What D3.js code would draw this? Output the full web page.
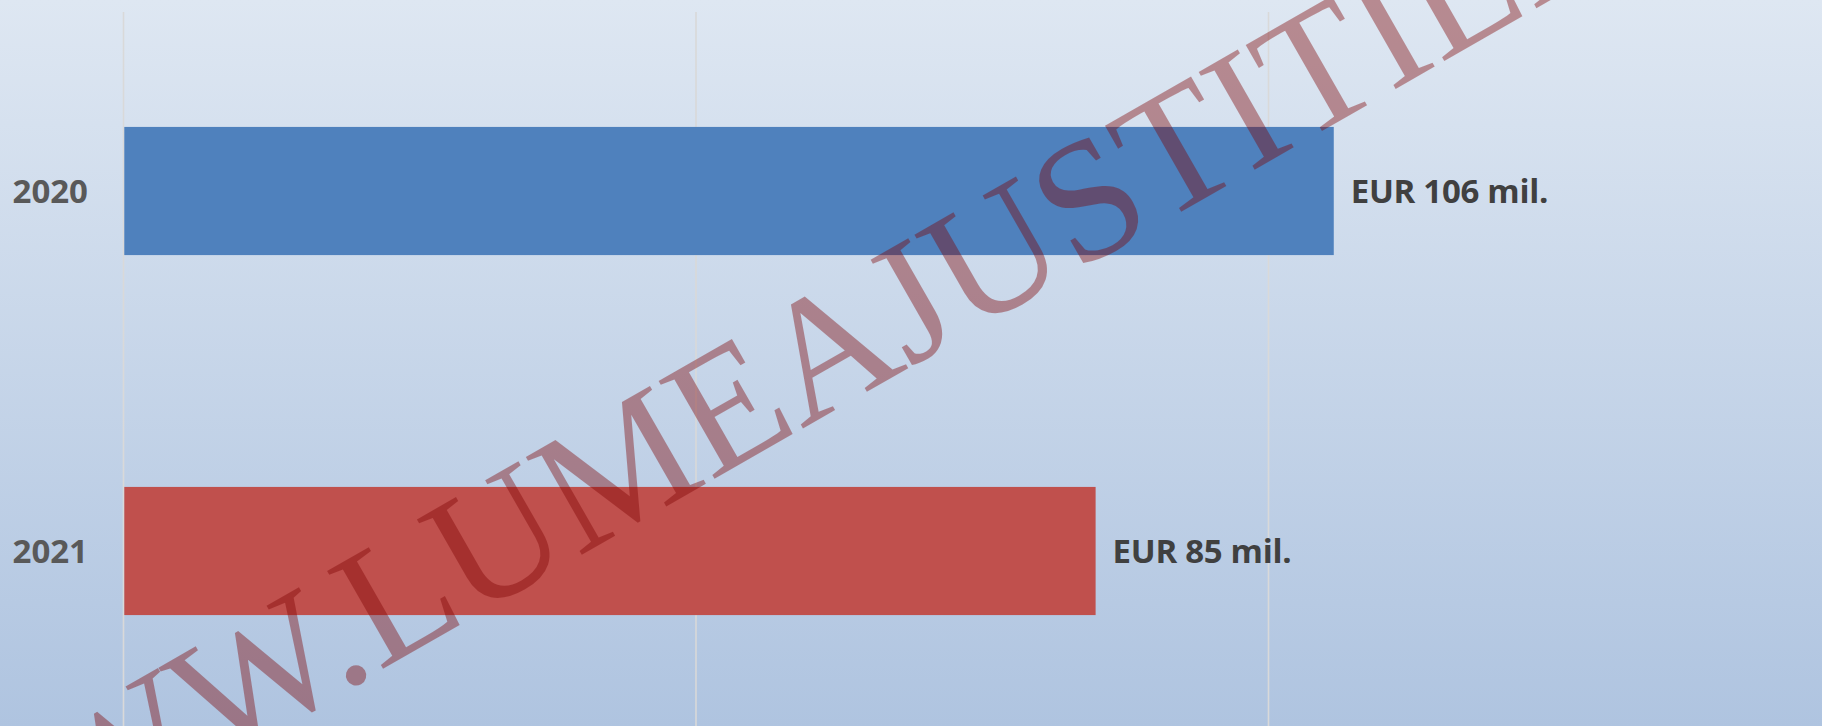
<!DOCTYPE html>
<html>
<head>
<meta charset="utf-8">
<script src="https://cdn.jsdelivr.net/npm/d3@7"></script>
<style>
  html, body { margin: 0; padding: 0; overflow: hidden; }
  .chart svg { display: block; }
</style>
</head>
<body>
<div class="chart"></div>
<script>
    // data
    var years = ["2020", "2021"];
    var values = [105.7, 84.9];
    var barColors = ["#4f81bd", "#c0504d"];
    var gridTicks = [0, 50, 100, 150];
    var watermarkText = "WWW.LUMEAJUSTITIEI.RO";

    var svgWidth = 1822;
    var svgHeight = 726;

    var margin = {
        top: 11,
        left: 123.5
    };

    var svg = d3
        .select(".chart")
        .append("svg")
        .attr("width", svgWidth)
        .attr("height", svgHeight);

    var defs = svg.append("defs");
    var grad = defs.append("linearGradient")
        .attr("id", "bg")
        .attr("x1", 0).attr("y1", 0)
        .attr("x2", 0).attr("y2", 1);
    grad.append("stop").attr("offset", "0%").attr("stop-color", "#dee7f2");
    grad.append("stop").attr("offset", "100%").attr("stop-color", "#afc4e0");

    svg.append("rect")
        .attr("width", svgWidth)
        .attr("height", svgHeight)
        .attr("fill", "url(#bg)");

    var xLinearScale = d3.scaleLinear()
        .domain([0, 150])
        .range([margin.left, margin.left + 150 * 11.45]);

    var yBandScale = d3.scaleBand()
        .domain(years)
        .range([margin.top, margin.top + 720])
        .paddingInner(0.644)
        .paddingOuter(0.322);

    var chartGroup = svg.append("g");

    // vertical gridlines
    chartGroup.selectAll(".grid")
        .data(gridTicks)
        .enter()
        .append("line")
        .attr("class", "grid")
        .attr("x1", d => xLinearScale(d))
        .attr("x2", d => xLinearScale(d))
        .attr("y1", 12)
        .attr("y2", margin.top + 720)
        .attr("stroke", "#d9d9d9")
        .attr("stroke-width", 1.6);

    chartGroup.selectAll(".bar")
        .data(values)
        .enter()
        .append("rect")
        .attr("class", "bar")
        .attr("x", xLinearScale(0) + 0.8)
        .attr("y", (d, i) => yBandScale(years[i]))
        .attr("width", d => xLinearScale(d) - xLinearScale(0) - 0.8)
        .attr("height", yBandScale.bandwidth())
        .attr("fill", (d, i) => barColors[i]);

    // category labels
    chartGroup.selectAll(".year")
        .data(years)
        .enter()
        .append("text")
        .attr("class", "year")
        .attr("x", 88)
        .attr("y", d => yBandScale(d) + yBandScale.bandwidth() / 2 + 12)
        .attr("text-anchor", "end")
        .attr("font-family", "'Open Sans', sans-serif")
        .attr("font-weight", "bold")
        .attr("font-size", "33px")
        .attr("fill", "#595959")
        .text(d => d);

    // value labels
    chartGroup.selectAll(".val")
        .data(values)
        .enter()
        .append("text")
        .attr("class", "val")
        .attr("x", d => xLinearScale(d) + 17)
        .attr("y", (d, i) => yBandScale(years[i]) + yBandScale.bandwidth() / 2 + 12)
        .attr("font-family", "'Open Sans', sans-serif")
        .attr("font-weight", "bold")
        .attr("font-size", "33px")
        .attr("letter-spacing", "-0.3px")
        .attr("fill", "#404040")
        .text(d => "EUR " + d3.format(".0f")(d) + " mil.");

    // watermark over the whole chart, baseline under the dot of "WWW."
    var wm = svg.append("text")
        .attr("font-family", "'Liberation Serif', 'Times New Roman', serif")
        .attr("font-size", "172px")
        .attr("fill", "#7c0000")
        .attr("fill-opacity", 0.4)
        .text(watermarkText);

    var dot = wm.node().getExtentOfChar(3);
    var dotCx = dot.x + dot.width / 2;
    wm.attr("transform", `translate(360, 682) rotate(-29.8) translate(${-dotCx}, 0)`);
</script>
</body>
</html>
